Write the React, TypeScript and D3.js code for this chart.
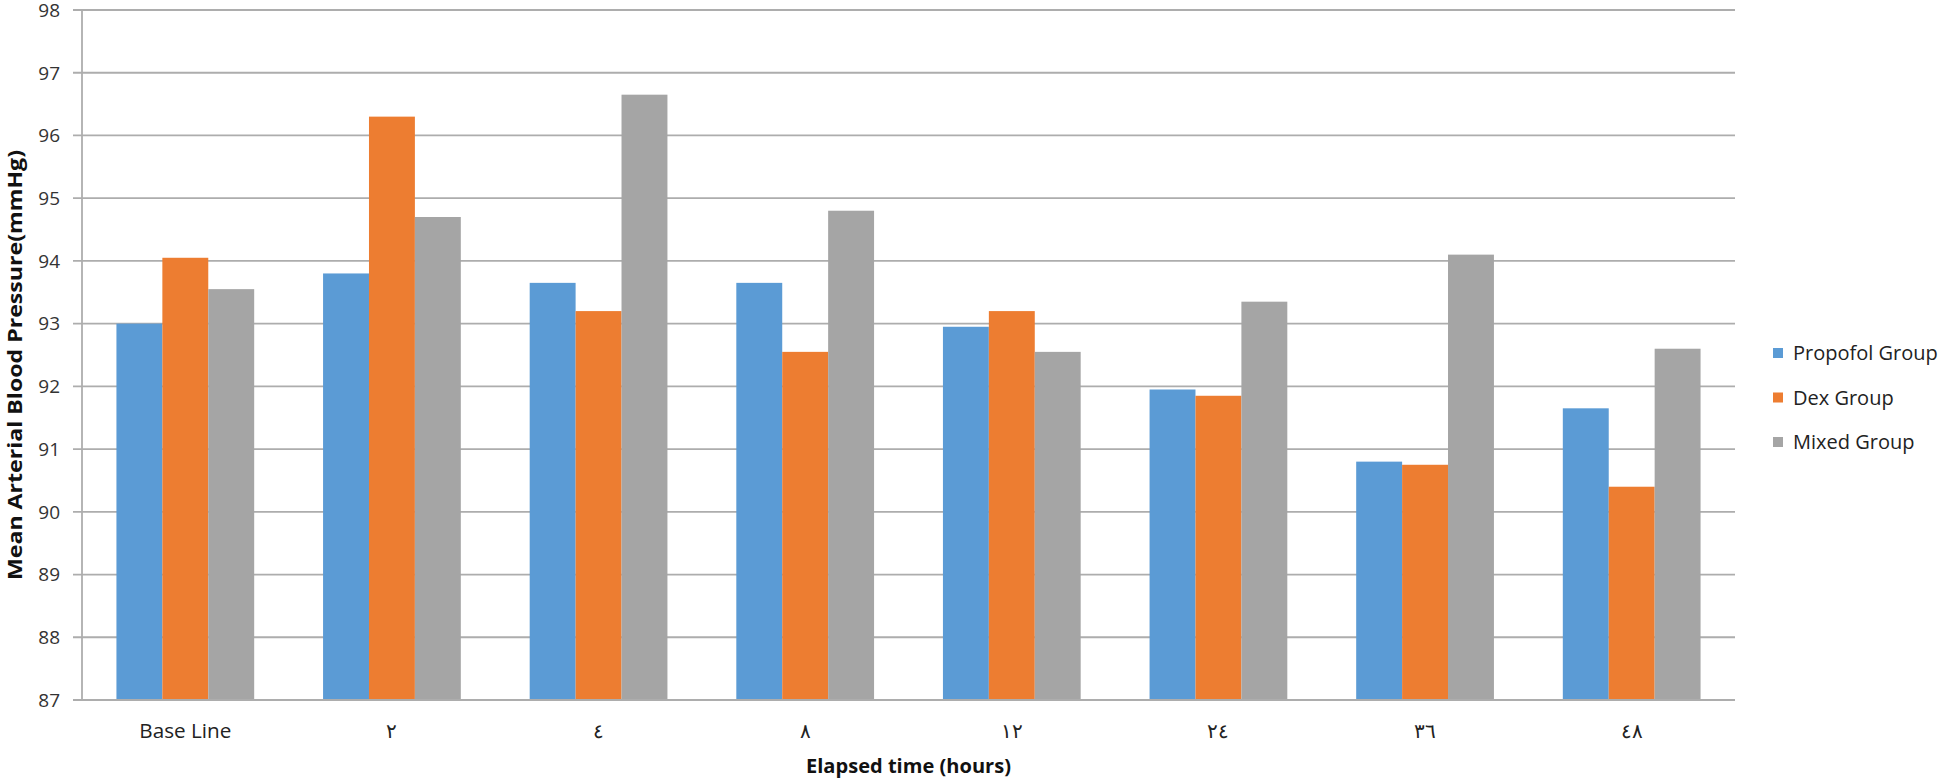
import React, { useEffect, useRef } from "react";
import * as d3 from "d3";

const categories = ["Base Line", "٢", "٤", "٨", "١٢", "٢٤", "٣٦", "٤٨"];
const seriesNames = ["Propofol Group", "Dex Group", "Mixed Group"];
const propofol = [93.0, 93.8, 93.65, 93.65, 92.95, 91.95, 90.8, 91.65];
const dex = [94.05, 96.3, 93.2, 92.55, 93.2, 91.85, 90.75, 90.4];
const mixed = [93.55, 94.7, 96.65, 94.8, 92.55, 93.35, 94.1, 92.6];
const colors = ["#5B9BD5", "#ED7D31", "#A5A5A5"];
const yTicks = [87, 88, 89, 90, 91, 92, 93, 94, 95, 96, 97, 98];
const yTitle = "Mean Arterial Blood Pressure(mmHg)";
const xTitle = "Elapsed time (hours)";

const W = 1946;
const H = 783;
const M = { left: 82, right: 1735, top: 10, bottom: 700 };

export default function App() {
  const ref = useRef<SVGSVGElement | null>(null);
  useEffect(() => {
    const svg = d3.select(ref.current);
    svg.selectAll("*").remove();
    const series = [propofol, dex, mixed];

    const x = d3.scaleBand<string>().domain(categories).range([M.left, M.right]).paddingInner(0).paddingOuter(0);
    const barW = x.bandwidth() / 4.5; // 3 bars + 150% gap
    const x1 = d3
      .scaleBand<number>()
      .domain([0, 1, 2])
      .range([0, barW * 3]);
    const y = d3.scaleLinear().domain([87, 98]).range([M.bottom, M.top]);

    svg.append("rect").attr("width", W).attr("height", H).attr("fill", "#fff");

    // gridlines
    svg
      .append("g")
      .selectAll("line")
      .data(yTicks)
      .join("line")
      .attr("x1", M.left - 9)
      .attr("x2", M.right)
      .attr("y1", (d) => y(d))
      .attr("y2", (d) => y(d))
      .attr("stroke", "#ADADAD")
      .attr("stroke-width", 1.8);

    // y axis line
    svg
      .append("line")
      .attr("x1", M.left)
      .attr("x2", M.left)
      .attr("y1", M.top)
      .attr("y2", M.bottom)
      .attr("stroke", "#ADADAD")
      .attr("stroke-width", 1.8);

    // y tick labels
    svg
      .append("g")
      .selectAll("text")
      .data(yTicks)
      .join("text")
      .attr("x", 60)
      .attr("y", (d) => y(d))
      .attr("dy", "0.36em")
      .attr("text-anchor", "end")
      .attr("font-family", "'Open Sans', sans-serif")
      .attr("font-size", 19)
      .attr("fill", "#333")
      .text((d) => String(d));

    // bars
    const groups = svg
      .append("g")
      .selectAll("g")
      .data(categories)
      .join("g")
      .attr("transform", (c) => `translate(${(x(c) as number) + (x.bandwidth() - barW * 3) / 2},0)`);

    groups
      .selectAll("rect")
      .data((c, i) => series.map((s, k) => ({ k, v: s[i] })))
      .join("rect")
      .attr("x", (d) => x1(d.k) as number)
      .attr("width", x1.bandwidth())
      .attr("y", (d) => y(d.v))
      .attr("height", (d) => M.bottom - y(d.v))
      .attr("fill", (d) => colors[d.k]);

    // x axis line
    svg
      .append("line")
      .attr("x1", M.left)
      .attr("x2", M.right)
      .attr("y1", M.bottom)
      .attr("y2", M.bottom)
      .attr("stroke", "#ADADAD")
      .attr("stroke-width", 1.8);

    // x labels
    svg
      .append("g")
      .selectAll("text")
      .data(categories)
      .join("text")
      .attr("x", (c) => (x(c) as number) + x.bandwidth() / 2)
      .attr("y", 738)
      .attr("text-anchor", "middle")
      .attr("font-family", (c, i) => (i === 0 ? "'Open Sans', sans-serif" : "'DejaVu Serif', serif"))
      .attr("font-size", (c, i) => (i === 0 ? 20 : 20))
      .attr("textLength", (c, i) => (i === 0 ? 92 : null))
      .attr("lengthAdjust", "spacingAndGlyphs")
      .attr("fill", "#222")
      .text((c) => c);

    // x title
    svg
      .append("text")
      .attr("x", (M.left + M.right) / 2)
      .attr("y", 773)
      .attr("text-anchor", "middle")
      .attr("font-family", "'Open Sans', sans-serif")
      .attr("font-weight", "bold")
      .attr("font-size", 19)
      .attr("textLength", 205)
      .attr("lengthAdjust", "spacingAndGlyphs")
      .attr("fill", "#111")
      .text(xTitle);

    // y title
    svg
      .append("text")
      .attr("transform", `translate(22,${365}) rotate(-90)`)
      .attr("text-anchor", "middle")
      .attr("font-family", "'Open Sans', sans-serif")
      .attr("font-weight", "bold")
      .attr("font-size", 19)
      .attr("textLength", 430)
      .attr("lengthAdjust", "spacingAndGlyphs")
      .attr("fill", "#111")
      .text(yTitle);

    // legend
    const lg = svg
      .append("g")
      .selectAll("g")
      .data(seriesNames)
      .join("g")
      .attr("transform", (d, i) => `translate(1773,${353 + i * 44.5})`);
    lg.append("rect").attr("x", 0).attr("y", -5).attr("width", 10).attr("height", 10).attr("fill", (d, i) => colors[i]);
    lg.append("text")
      .attr("x", 20)
      .attr("y", 0)
      .attr("dy", "0.36em")
      .attr("font-family", "'Open Sans', sans-serif")
      .attr("font-size", 20)
      .attr("fill", "#222")
      .text((d) => d);
  }, []);

  return (
    <svg
      ref={ref}
      width={W}
      height={H}
      style={{ position: "absolute", left: 0, top: 0, display: "block" }}
    />
  );
}
